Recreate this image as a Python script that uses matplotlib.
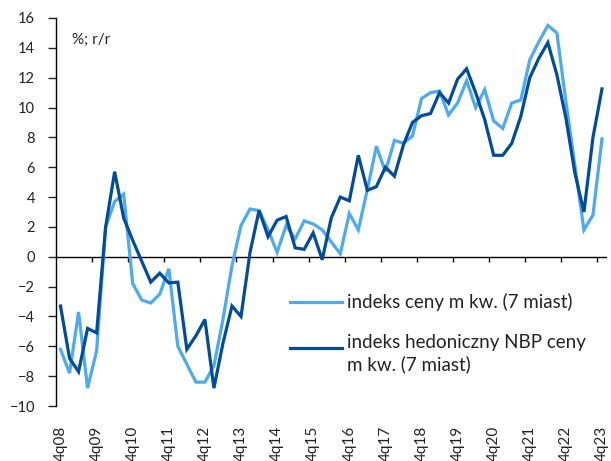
import matplotlib
matplotlib.use("Agg")
import matplotlib.pyplot as plt
from matplotlib.lines import Line2D

plt.rcParams['font.family'] = ['Lato', 'DejaVu Sans']

# kwartaly 4q08 .. 4q23
quarters = ['%dq%02d' % ((i + 3) % 4 + 1, 8 + (i + 3) // 4) for i in range(61)]

cena_m2 = [-6.2, -7.8, -3.7, -8.8, -6.3, 2.0, 3.7, 4.2, -1.8, -2.9,
           -3.1, -2.5, -0.8, -6.0, -7.2, -8.4, -8.4, -7.3, -4.2, -0.6,
           2.1, 3.2, 3.1, 1.8, 0.3, 2.1, 1.2, 2.4, 2.2, 1.8,
           1.0, 0.2, 2.9, 1.8, 4.5, 7.4, 5.7, 7.8, 7.6, 8.1,
           10.6, 11.0, 11.1, 9.5, 10.3, 11.8, 10.0, 11.2, 9.1, 8.6,
           10.3, 10.5, 13.2, 14.4, 15.5, 15.0, 10.4, 6.1, 1.8, 2.8,
           7.9]

hedoniczny = [-3.3, -6.8, -7.7, -4.8, -5.1, 2.0, 5.7, 2.6, 1.1, -0.3,
              -1.7, -1.1, -1.75, -1.7, -6.2, -5.3, -4.2, -8.8, -5.8, -3.3,
              -4.0, 0.3, 3.1, 1.35, 2.45, 2.7, 0.6, 0.5, 1.6, -0.2,
              2.6, 4.0, 3.75, 6.8, 4.45, 4.7, 6.0, 5.4, 7.5, 9.0,
              9.45, 9.6, 11.0, 10.3, 11.9, 12.6, 11.0, 9.2, 6.8, 6.8,
              7.6, 9.4, 12.0, 13.3, 14.35, 12.2, 9.3, 5.6, 3.0, 8.0,
              11.25]

labels = ['indeks ceny m kw. (7 miast)',
          'indeks hedoniczny NBP ceny\nm kw. (7 miast)']

light = '#4BAAF0'
dark = '#004C98'

fig = plt.figure(figsize=(6.11, 4.61), dpi=100)
ax = fig.add_axes([56 / 611, 55 / 461, 550.5 / 611, 388 / 461])

x = list(range(len(quarters)))
ax.plot(x, cena_m2, color=light, lw=2.3, solid_joinstyle='miter')
ax.plot(x, hedoniczny, color=dark, lw=2.3, solid_joinstyle='miter')

ax.set_xlim(-0.5, len(quarters) - 0.5)
ax.set_ylim(-10, 16)
ax.set_yticks(range(-10, 17, 2))
ax.tick_params(axis='y', direction='out', length=6, width=1, pad=9,
               labelsize=10.5, colors='#222222')

ax.set_xticks(x[::4])
ax.set_xticklabels(quarters[::4], rotation=90, fontsize=11, color='#222222')
ax.tick_params(axis='x', length=0, pad=14)

for s in ['top', 'right', 'bottom']:
    ax.spines[s].set_visible(False)
ax.spines['left'].set_linewidth(1)
ax.spines['left'].set_color('black')

# os zerowa z kreskami
ax.axhline(0, color='black', lw=1, zorder=1)
for k in range(1, 16):
    ax.plot([4 * k - 0.5, 4 * k - 0.5], [0, -0.38], color='black', lw=1,
            solid_capstyle='butt', zorder=1)

fx = lambda px: (px - 56) / 550.5
fy = lambda py: (406 - py) / 388

ax.text(fx(72), fy(40), '%; r/r', transform=ax.transAxes, fontsize=11,
        va='center', color='#222222')

# legenda
ax.add_line(Line2D([fx(290), fx(342)], [fy(301.5), fy(301.5)], color=light,
                   lw=2.3, transform=ax.transAxes))
ax.add_line(Line2D([fx(290), fx(342)], [fy(347.5), fy(347.5)], color=dark,
                   lw=2.3, transform=ax.transAxes))
ax.text(fx(347), fy(301.5), labels[0], transform=ax.transAxes, fontsize=13.5,
        va='center', color='#222222')
ax.text(fx(347), fy(347.5) + 0.036, labels[1], transform=ax.transAxes,
        fontsize=13.5, va='top', color='#222222', linespacing=1.3)

fig.savefig('out.png', dpi=100)
